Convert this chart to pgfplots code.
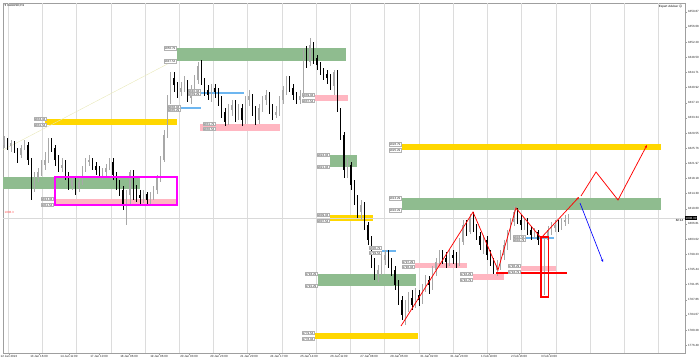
\documentclass[border=0pt]{standalone}
\usepackage{pgfplots}
\pgfplotsset{compat=1.18}
\usepackage{pgfplotstable}
\usepackage{fontspec}
\setmainfont{Liberation Sans}
\newfontfamily\dejavu{DejaVu Sans}
\usetikzlibrary{arrows.meta}
\definecolor{zgreen}{HTML}{8FBC8F}
\definecolor{zyellow}{HTML}{FFD700}
\definecolor{zpink}{HTML}{FFB6C1}
\definecolor{zblue}{HTML}{6DB6F0}
\definecolor{gridc}{HTML}{DCDCDC}
\definecolor{bullc}{HTML}{A8A8A8}
\definecolor{trendc}{HTML}{E8E8B8}
\definecolor{boxmag}{HTML}{FF00FF}
\definecolor{rd}{HTML}{FF0000}
\definecolor{bl}{HTML}{0000FF}
\newcommand\tf{\fontsize{3}{3.4}\selectfont}
\newcommand\zone[5]{\addplot[draw=none, fill=#1, mark=none, forget plot] coordinates {(#2,#4) (#3,#4) (#3,#5) (#2,#5)};}
\tikzset{lbl/.style={fill=white, draw=gray!60, line width=0.2pt, inner sep=0.5pt, font=\tf, text=black!80}}

\pgfplotstableread{
x o h l c
4 1826.55 1828.8 1825.8 1827.8
7.4 1827.8 1828.3 1825.3 1826.3
10.8 1826.3 1827.8 1824.8 1827.05
14.2 1827.05 1827.55 1824.55 1825.3
17.6 1825.3 1825.8 1822.05 1824.05
21 1824.05 1826.55 1823.3 1825.8
24.4 1825.8 1827.8 1825.3 1826.55
27.8 1826.55 1827.3 1821.55 1822.8
31.2 1822.8 1823.3 1812.8 1815.8
34.6 1815.8 1819.8 1814.8 1818.3
38 1818.3 1820.8 1817.3 1819.8
41.4 1819.8 1822.8 1818.8 1821.55
44.8 1821.55 1824.8 1820.3 1822.8
48.2 1822.8 1828.3 1822.05 1827.3
51.6 1827.3 1828.3 1824.8 1825.8
55 1825.8 1826.55 1821.3 1822.8
58.4 1822.8 1824.05 1819.8 1820.8
61.8 1820.8 1823.3 1819.8 1821.55
65.2 1821.55 1822.8 1817.8 1819.05
68.6 1819.05 1819.8 1815.3 1816.3
72 1816.3 1818.8 1815.3 1817.8
75.4 1817.8 1818.3 1814.05 1815.8
78.8 1815.8 1818.8 1814.8 1817.3
82.2 1817.3 1821.3 1816.55 1820.3
85.6 1820.3 1823.3 1819.8 1822.3
89 1822.3 1824.05 1821.3 1822.8
92.4 1822.8 1823.3 1820.3 1821.3
95.8 1821.3 1822.3 1819.05 1820.3
99.2 1820.3 1821.3 1818.3 1819.05
102.6 1819.05 1820.8 1817.8 1819.8
106 1819.8 1821.8 1818.8 1820.8
109.4 1820.8 1823.3 1820.3 1822.3
112.8 1822.3 1823.3 1817.8 1819.05
116.2 1819.05 1819.8 1815.3 1816.55
119.6 1816.55 1817.8 1813.8 1815.3
123 1815.3 1816.3 1810.3 1811.55
126.4 1811.55 1815.3 1806.55 1814.05
129.8 1814.05 1820.3 1811.55 1819.8
133.2 1819.8 1820.3 1812.8 1815.8
136.6 1815.8 1816.55 1812.3 1814.05
140 1814.05 1815.3 1811.8 1813.3
143.4 1813.3 1815.3 1812.05 1814.3
146.8 1814.3 1814.8 1811.55 1812.8
150.2 1812.8 1814.8 1811.8 1813.8
153.6 1813.8 1816.3 1812.8 1815.3
157 1815.3 1819.05 1814.3 1818.3
160.4 1818.3 1823.8 1817.3 1822.8
163.8 1822.8 1830.3 1822.3 1829.05
167.2 1829.05 1839.05 1828.3 1837.8
170.6 1837.8 1844.8 1836.8 1843.3
174 1843.3 1844.8 1839.8 1841.55
177.4 1841.55 1842.3 1838.3 1839.8
180.8 1839.8 1842.3 1838.8 1840.8
184.2 1840.8 1843.8 1839.8 1842.3
187.6 1842.3 1842.8 1837.3 1838.3
191 1838.3 1841.55 1836.8 1839.8
194.4 1839.8 1844.05 1838.8 1842.8
197.8 1842.8 1847.3 1841.8 1846.3
201.2 1846.3 1847.8 1841.55 1842.8
204.6 1842.8 1843.3 1838.8 1840.3
208 1840.3 1841.55 1837.8 1839.05
211.4 1839.05 1841.8 1837.3 1840.8
214.8 1840.8 1841.8 1838.3 1839.8
218.2 1839.8 1840.8 1836.3 1837.8
221.6 1837.8 1838.8 1833.3 1834.8
225 1834.8 1835.8 1831.3 1832.3
228.4 1832.3 1836.8 1831.55 1835.3
231.8 1835.3 1837.8 1833.8 1836.55
235.2 1836.55 1837.8 1832.3 1834.05
238.6 1834.05 1836.8 1832.8 1835.8
242 1835.8 1836.8 1831.3 1832.8
245.4 1832.8 1838.8 1831.8 1837.8
248.8 1837.8 1840.3 1836.3 1838.8
252.2 1838.8 1839.3 1833.8 1835.3
255.6 1835.3 1836.3 1831.55 1832.8
259 1832.8 1836.8 1831.8 1835.8
262.4 1835.8 1838.8 1834.8 1837.8
265.8 1837.8 1840.3 1836.55 1839.05
269.2 1839.05 1839.8 1834.3 1835.8
272.6 1835.8 1836.8 1832.8 1834.05
276 1834.05 1836.3 1833.3 1834.8
279.4 1834.8 1838.8 1833.8 1837.8
282.8 1837.8 1841.3 1836.8 1840.3
286.2 1840.3 1843.8 1839.05 1842.8
289.6 1842.8 1843.8 1839.8 1840.8
293 1840.8 1841.8 1837.8 1839.05
296.4 1839.05 1839.8 1836.8 1837.8
299.8 1837.8 1840.3 1836.8 1838.8
303.2 1838.8 1850.8 1838.3 1849.05
306.6 1849.05 1851.3 1845.8 1847.3
310 1847.3 1853.3 1846.3 1851.55
313.4 1851.55 1852.3 1846.8 1848.3
316.8 1848.3 1849.05 1845.3 1846.55
320.2 1846.55 1847.3 1844.05 1845.3
323.6 1845.3 1845.8 1842.8 1844.3
327 1844.3 1845.3 1841.8 1843.3
330.4 1843.3 1844.3 1840.3 1841.3
333.8 1841.3 1845.3 1839.05 1844.8
337.2 1844.8 1845.3 1834.8 1835.3
340.6 1835.3 1835.8 1827.8 1829.05
344 1829.05 1829.8 1818.3 1820.3
347.4 1820.3 1823.3 1818.3 1821.55
350.8 1821.55 1822.3 1815.3 1816.55
354.2 1816.55 1817.8 1811.55 1813.3
357.6 1813.3 1814.05 1808.3 1809.8
361 1809.8 1812.8 1807.8 1811.55
364.4 1811.55 1812.3 1805.3 1806.55
367.8 1806.55 1807.3 1801.55 1802.8
371.2 1802.8 1803.8 1795.8 1797.3
374.6 1797.3 1798.3 1792.8 1794.05
378 1794.05 1796.55 1792.3 1795.3
381.4 1795.3 1799.05 1794.05 1797.8
384.8 1797.8 1800.3 1796.55 1799.05
388.2 1799.05 1800.3 1795.8 1797.3
391.6 1797.3 1798.3 1793.8 1795.3
395 1795.3 1796.3 1790.3 1791.55
398.4 1791.55 1792.8 1786.55 1787.8
401.8 1787.8 1788.8 1782.8 1784.05
405.2 1784.05 1787.8 1781.55 1785.8
408.6 1785.8 1789.8 1784.8 1788.3
412 1788.3 1790.3 1785.3 1786.55
415.4 1786.55 1790.8 1785.8 1789.05
418.8 1789.05 1790.3 1786.3 1787.8
422.2 1787.8 1791.8 1786.8 1790.8
425.6 1790.8 1794.05 1789.8 1792.8
429 1792.8 1793.8 1789.3 1791.55
432.4 1791.55 1796.3 1790.3 1795.3
435.8 1795.3 1798.3 1793.8 1797.3
439.2 1797.3 1800.3 1796.3 1799.05
442.6 1799.05 1800.3 1796.8 1798.3
446 1798.3 1799.8 1795.8 1797.3
449.4 1797.3 1800.3 1796.3 1799.05
452.8 1799.05 1800.3 1796.8 1798.3
456.2 1798.3 1799.8 1795.8 1797.3
459.6 1797.3 1803.3 1796.3 1802.3
463 1802.3 1807.8 1801.55 1806.55
466.4 1806.55 1807.8 1803.8 1804.8
469.8 1804.8 1809.3 1804.3 1808.3
473.2 1808.3 1809.8 1804.8 1805.8
476.6 1805.8 1806.8 1802.8 1803.8
480 1803.8 1804.8 1800.3 1801.55
483.4 1801.55 1804.05 1799.3 1802.8
486.8 1802.8 1803.8 1797.8 1799.05
490.2 1799.05 1800.3 1796.3 1797.3
493.6 1797.3 1798.3 1794.3 1795.3
497 1795.3 1797.8 1793.8 1796.55
500.4 1796.55 1800.3 1795.3 1799.05
503.8 1799.05 1802.8 1797.8 1801.55
507.2 1801.55 1805.3 1800.3 1804.05
510.6 1804.05 1808.3 1802.8 1807.3
514 1807.3 1811.3 1806.3 1809.8
517.4 1809.8 1810.8 1806.8 1807.8
520.8 1807.8 1809.05 1805.3 1806.55
524.2 1806.55 1808.3 1805.3 1807.3
527.6 1807.3 1808.3 1804.05 1805.3
531 1805.3 1806.3 1802.8 1804.05
534.4 1804.05 1805.8 1803.3 1804.8
537.8 1804.8 1805.3 1801.55 1802.8
541.2 1802.8 1803.8 1800.3 1801.8
544.6 1801.8 1803.8 1789.05 1802.8
548 1802.8 1806.3 1801.55 1805.3
551.4 1805.3 1807.3 1804.05 1805.8
554.8 1805.8 1807.8 1804.8 1806.55
558.2 1806.55 1807.8 1804.8 1805.8
561.6 1805.8 1808.3 1805.3 1807.3
565 1807.3 1809.05 1806.3 1807.8
568.4 1807.8 1809.3 1806.8 1808.3
}\candles

\begin{document}
\begin{tikzpicture}[x=1pt,y=1pt]
\useasboundingbox (0,0) rectangle (700,362);
\begin{axis}[
  at={(3pt,9pt)}, anchor=south west,
  scale only axis, width=682pt, height=350pt,
  xmin=3, xmax=685, ymin=1774.55, ymax=1862.05,
  clip mode=individual,
  axis line style={draw=gray!75, line width=0.4pt},
  tick style={draw=gray!75, line width=0.3pt},
  major tick length=1.5pt, tick align=outside,
  ytick pos=right, yticklabel pos=right, xtick pos=bottom,
  xtick={9,39,69,99,129,159,189,219,249,279,309,339,369,399,429,459,489,519,549},
  xticklabels={12 Jan 2022,13 Jan 16:00,14 Jan 11:00,17 Jan 10:00,18 Jan 06:00,19 Jan 06:00,20 Jan 03:00,20 Jan 23:00,21 Jan 20:00,24 Jan 17:00,25 Jan 14:00,26 Jan 11:00,27 Jan 08:00,28 Jan 05:00,31 Jan 02:00,31 Jan 23:00,1 Feb 19:00,2 Feb 16:00,3 Feb 13:00},
  x tick label style={font=\tf, text=black!85, inner sep=0.5pt},
  ytick={1859.87,1856.08,1852.29,1848.50,1844.71,1840.92,1837.13,1833.34,1829.55,1825.76,1821.97,1818.18,1814.39,1810.60,1806.81,1803.02,1799.23,1795.44,1791.65,1787.86,1784.07,1780.28,1776.49},
  y tick label style={font=\tf, text=black!85, inner sep=0.5pt, xshift=0.8pt},
  /pgf/number format/.cd, fixed, fixed zerofill, precision=2, 1000 sep={}, assume math mode=true,
  /pgfplots/.cd,
  extra x ticks={8,42.24,76.48,110.72,144.96,179.2,213.44,247.68,281.92,316.16,350.4,384.64,418.88,453.12,487.36,521.6,555.84,590.08,624.32,658.56},
  extra x tick labels={},
  extra x tick style={grid=major, major grid style={gridc, line width=0.4pt}, major tick length=0pt},
]
% zones
\zone{zgreen}{3}{140}{1818.55}{1815.55}
\zone{zgreen}{177}{346}{1850.79}{1847.54}
\zone{zgreen}{330}{357}{1824.05}{1821.05}
\zone{zgreen}{318}{416}{1794.3}{1791.3}
\zone{zgreen}{402}{661}{1813.29}{1810.29}
\zone{zyellow}{45}{177}{1833.05}{1831.55}
\zone{zyellow}{330}{373}{1809.05}{1807.55}
\zone{zyellow}{402}{661}{1826.79}{1825.29}
\zone{zyellow}{315}{418}{1779.55}{1778.05}
\zone{zpink}{55}{177}{1813.05}{1811.55}
\zone{zpink}{200}{280}{1831.8}{1830.05}
\zone{zpink}{315}{348}{1839.05}{1837.55}
\zone{zpink}{415}{467}{1797.05}{1795.8}
\zone{zpink}{473}{504}{1794.3}{1792.8}
\zone{zpink}{521}{556}{1796.3}{1795.05}
\zone{zblue}{180}{201}{1836.05}{1835.55}
\zone{zblue}{200}{244}{1839.8}{1839.3}
\zone{zblue}{382}{396}{1800.3}{1799.8}
\zone{zblue}{526}{554}{1803.55}{1803.05}
% trend line and bid line
\addplot[draw=trendc, mark=none, line width=0.4pt, forget plot] coordinates {(3,1825.3) (177,1848.05)};
\addplot[draw=gray!30, mark=none, line width=0.3pt, forget plot] coordinates {(3,1808.3) (685,1808.3)};
% candles: wicks
\addplot[draw=none, mark=none, forget plot,
  restrict expr to domain={\thisrow{c}-\thisrow{o}}{0:1000},
  error bars/.cd, y dir=both, y explicit, error mark=none,
  error bar style={draw=bullc, line width=0.5pt}]
  table[x=x, y expr={(\thisrow{h}+\thisrow{l})/2}, y error expr={(\thisrow{h}-\thisrow{l})/2}] {\candles};
\addplot[draw=none, mark=none, forget plot,
  restrict expr to domain={\thisrow{c}-\thisrow{o}}{-1000:0},
  error bars/.cd, y dir=both, y explicit, error mark=none,
  error bar style={draw=black, line width=0.5pt}]
  table[x=x, y expr={(\thisrow{h}+\thisrow{l})/2}, y error expr={(\thisrow{h}-\thisrow{l})/2}] {\candles};
% candles: bodies
\addplot[draw=none, mark=none, forget plot,
  restrict expr to domain={\thisrow{c}-\thisrow{o}}{0:1000},
  error bars/.cd, y dir=both, y explicit, error mark=none,
  error bar style={draw=bullc, line width=1.1pt}]
  table[x=x, y expr={(\thisrow{o}+\thisrow{c})/2}, y error expr={max(abs(\thisrow{o}-\thisrow{c})/2,0.08)}] {\candles};
\addplot[draw=none, mark=none, forget plot,
  restrict expr to domain={\thisrow{c}-\thisrow{o}}{-1000:0},
  error bars/.cd, y dir=both, y explicit, error mark=none,
  error bar style={draw=black, line width=1.1pt}]
  table[x=x, y expr={(\thisrow{o}+\thisrow{c})/2}, y error expr={max(abs(\thisrow{o}-\thisrow{c})/2,0.08)}] {\candles};
% red horizontal level and red box (filled bars, as in the run that coloured them correctly)
\zone{rd}{496}{567}{1794.7}{1794.4}
\zone{rd}{540.3}{548.7}{1803.7}{1803.4}
\zone{rd}{540.3}{548.7}{1788.7}{1788.4}
\zone{rd}{540.3}{541.5}{1803.7}{1788.4}
\zone{rd}{547.5}{548.7}{1803.7}{1788.4}
% magenta box (filled bars, a little wider)
\zone{boxmag}{54.2}{177.8}{1818.72}{1818.38}
\zone{boxmag}{54.2}{177.8}{1811.72}{1811.38}
\zone{boxmag}{54.2}{55.6}{1818.72}{1811.38}
\zone{boxmag}{176.4}{177.8}{1818.72}{1811.38}
% red/blue projections
\addplot[draw=rd, mark=none, line width=0.75pt, -{Stealth[length=3pt,width=2.4pt]}, forget plot] coordinates {(401,1781.3) (473,1809.8) (498,1795.3) (516,1810.8) (541,1803.3) (579,1813.55)};
\addplot[draw=rd, mark=none, line width=0.75pt, -{Stealth[length=3pt,width=2.4pt]}, forget plot] coordinates {(581,1813.8) (596,1819.8) (618,1812.8) (647,1826.55)};
\addplot[draw=bl, mark=none, line width=0.65pt, -{Stealth[length=3pt,width=2.4pt]}, forget plot] coordinates {(580,1812.05) (603,1797.3)};
% level labels
\node[lbl, anchor=east] at (axis cs:176,1850.79) {1850.79};
\node[lbl, anchor=east] at (axis cs:176,1847.54) {1847.54};
\node[lbl, anchor=east] at (axis cs:46,1833.05) {1833.04};
\node[lbl, anchor=east] at (axis cs:46,1831.55) {1831.54};
\node[lbl, anchor=east] at (axis cs:53,1813.05) {1813.04};
\node[lbl, anchor=east] at (axis cs:53,1811.55) {1811.54};
\node[lbl, anchor=east] at (axis cs:180,1836.05) {1836.04};
\node[lbl, anchor=east] at (axis cs:180,1835.3) {1835.29};
\node[lbl, anchor=east] at (axis cs:200,1840.05) {1840.04};
\node[lbl, anchor=east] at (axis cs:200,1839.3) {1839.29};
\node[lbl, anchor=east] at (axis cs:215,1831.8) {1831.79};
\node[lbl, anchor=east] at (axis cs:215,1830.55) {1830.54};
\node[lbl, anchor=east] at (axis cs:314,1839.05) {1839.04};
\node[lbl, anchor=east] at (axis cs:314,1837.55) {1837.54};
\node[lbl, anchor=east] at (axis cs:329,1824.05) {1824.04};
\node[lbl, anchor=east] at (axis cs:329,1821.05) {1821.04};
\node[lbl, anchor=east] at (axis cs:329,1809.05) {1809.04};
\node[lbl, anchor=east] at (axis cs:329,1807.55) {1807.54};
\node[lbl, anchor=east] at (axis cs:317,1794.3) {1794.29};
\node[lbl, anchor=east] at (axis cs:317,1791.3) {1791.29};
\node[lbl, anchor=east] at (axis cs:381,1800.8) {1800.79};
\node[lbl, anchor=east] at (axis cs:381,1799.55) {1799.54};
\node[lbl, anchor=east] at (axis cs:414,1797.3) {1797.29};
\node[lbl, anchor=east] at (axis cs:414,1796.05) {1796.04};
\node[lbl, anchor=east] at (axis cs:472,1794.3) {1794.29};
\node[lbl, anchor=east] at (axis cs:472,1792.8) {1792.79};
\node[lbl, anchor=east] at (axis cs:520,1796.3) {1796.29};
\node[lbl, anchor=east] at (axis cs:520,1794.8) {1794.79};
\node[lbl, anchor=east] at (axis cs:525,1803.55) {1803.54};
\node[lbl, anchor=east] at (axis cs:525,1802.8) {1802.79};
\node[lbl, anchor=east] at (axis cs:401,1813.29) {1813.29};
\node[lbl, anchor=east] at (axis cs:401,1810.29) {1810.29};
\node[lbl, anchor=east] at (axis cs:401,1826.79) {1826.79};
\node[lbl, anchor=east] at (axis cs:401,1825.29) {1825.29};
\node[lbl, anchor=east] at (axis cs:314,1779.55) {1779.54};
\node[lbl, anchor=east] at (axis cs:314,1778.05) {1778.04};
% header texts and price marker
\node[anchor=north west, font=\tf, inner sep=0.5pt] at (axis cs:4,1861.8) {{\dejavu\fontsize{3}{3.4}\selectfont ▾} XAUUSD,H1};
\node[anchor=north east, font=\tf, inner sep=0.5pt] at (axis cs:683,1861.8) {Expert Adviser {\dejavu\fontsize{3}{3.4}\selectfont ☺}};
\node[anchor=west, fill=black, text=white, font=\tf, inner sep=0.5pt] at (axis cs:685,1808.3) {1808.30};
\node[anchor=east, font=\tf, inner sep=0.5pt] at (axis cs:684,1807.6) {82:14};
\node[anchor=west, font=\tf, text=red!70, inner sep=0.5pt] at (axis cs:4,1809.6) {1808.3};
\end{axis}
\end{tikzpicture}
\end{document}
